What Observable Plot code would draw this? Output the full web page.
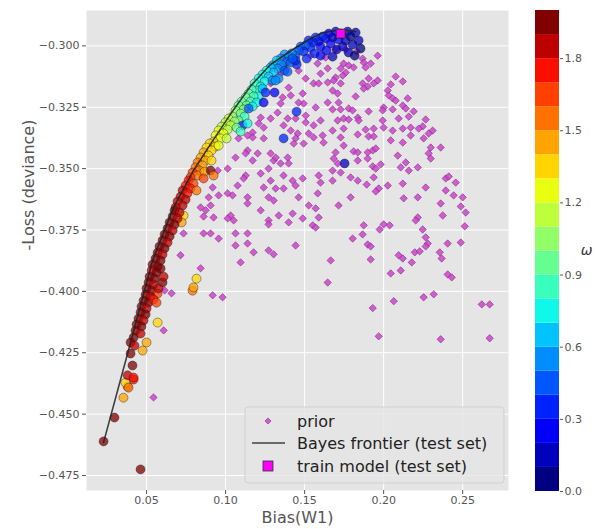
<!DOCTYPE html>
<html>
<head>
<meta charset="utf-8">
<script src="https://cdn.jsdelivr.net/npm/d3@7"></script>
<script src="https://cdn.jsdelivr.net/npm/@observablehq/plot@0.6"></script>
<style>
  html, body { margin: 0; padding: 0; background: #ffffff; }
  #chart { position: relative; width: 595px; height: 529px; font-family: "DejaVu Sans", sans-serif; }
  #chart > svg { position: absolute; top: 0; }
</style>
</head>
<body>
<div id="chart"></div>
<script>
// Axis ticks
const biasTicks = [0.05, 0.10, 0.15, 0.20, 0.25];
const lossTicks = [-0.300, -0.325, -0.350, -0.375, -0.400, -0.425, -0.450, -0.475];
const omegaTicks = [0.0, 0.3, 0.6, 0.9, 1.2, 1.5, 1.8];
// Colour bar levels for omega (20 bands)
const omegaLevels = [0.0, 0.1, 0.2, 0.3, 0.4, 0.5, 0.6, 0.7, 0.8, 0.9, 1.0,
                     1.1, 1.2, 1.3, 1.4, 1.5, 1.6, 1.7, 1.8, 1.9, 2.0];

// Prior samples: [bias, -loss]
const priorPoints = [
  [0.1538,-0.3040],[0.1582,-0.3072],[0.1633,-0.3048],[0.1646,-0.3092],[0.1601,-0.3113],
  [0.1462,-0.3101],[0.1348,-0.3113],[0.1557,-0.3153],[0.1589,-0.3153],[0.1646,-0.3149],
  [0.1507,-0.3133],[0.1399,-0.3170],[0.1285,-0.3153],[0.1412,-0.3202],[0.1361,-0.3210],
  [0.1488,-0.3194],[0.1494,-0.3235],[0.1462,-0.3231],[0.1570,-0.3251],[0.1646,-0.3231],
  [0.1348,-0.3235],[0.1329,-0.3272],[0.1285,-0.3296],[0.1222,-0.3292],[0.1209,-0.3316],
  [0.1393,-0.3296],[0.1443,-0.3296],[0.1507,-0.3284],[0.1507,-0.3312],[0.1557,-0.3324],
  [0.1601,-0.3304],[0.1367,-0.3324],[0.1241,-0.3333],[0.1171,-0.3353],[0.1139,-0.3365],
  [0.1456,-0.3357],[0.1412,-0.3345],[0.1526,-0.3357],[0.1614,-0.3365],[0.1677,-0.3345],
  [0.1696,-0.3015],[0.1760,-0.3015],[0.1829,-0.3023],[0.1962,-0.3040],[0.1867,-0.3052],
  [0.1874,-0.3068],[0.1918,-0.3072],[0.1747,-0.3072],[0.1779,-0.3080],[0.1810,-0.3088],
  [0.1886,-0.3088],[0.1728,-0.3092],[0.1760,-0.3109],[0.1741,-0.3121],[0.1696,-0.3129],
  [0.2076,-0.3125],[0.1905,-0.3133],[0.1962,-0.3141],[0.2121,-0.3145],[0.1867,-0.3153],
  [0.1937,-0.3153],[0.1899,-0.3166],[0.1728,-0.3153],[0.1684,-0.3141],[0.2045,-0.3157],
  [0.1874,-0.3174],[0.1677,-0.3182],[0.1709,-0.3194],[0.2026,-0.3182],[0.2032,-0.3202],
  [0.1823,-0.3206],[0.2057,-0.3214],[0.2076,-0.3223],[0.2152,-0.3214],[0.2121,-0.3243],
  [0.1715,-0.3231],[0.2000,-0.3251],[0.2057,-0.3259],[0.2140,-0.3255],[0.1677,-0.3259],
  [0.1728,-0.3259],[0.1779,-0.3255],[0.1804,-0.3263],[0.1905,-0.3267],[0.1994,-0.3263],
  [0.2190,-0.3267],[0.2159,-0.3288],[0.1836,-0.3292],[0.1842,-0.3304],[0.1709,-0.3304],
  [0.1747,-0.3296],[0.1779,-0.3300],[0.1994,-0.3304],[0.2095,-0.3296],[0.2266,-0.3300],
  [0.2247,-0.3328],[0.2222,-0.3337],[0.2121,-0.3337],[0.2171,-0.3333],[0.2057,-0.3345],
  [0.2000,-0.3333],[0.1886,-0.3341],[0.1937,-0.3337],[0.1747,-0.3337],[0.1836,-0.3361],
  [0.1905,-0.3369],[0.1937,-0.3369],[0.2310,-0.3345],[0.2285,-0.3357],[0.2171,-0.3365],
  [0.1728,-0.3373],[0.1082,-0.3377],[0.1171,-0.3373],[0.1241,-0.3377],[0.1443,-0.3377],
  [0.1494,-0.3398],[0.1431,-0.3398],[0.1557,-0.3373],[0.1620,-0.3394],[0.1139,-0.3426],
  [0.1203,-0.3438],[0.1127,-0.3438],[0.1063,-0.3455],[0.1171,-0.3467],[0.1285,-0.3438],
  [0.1304,-0.3467],[0.1348,-0.3479],[0.1393,-0.3455],[0.1399,-0.3479],[0.1317,-0.3455],
  [0.1013,-0.3500],[0.0950,-0.3508],[0.1127,-0.3528],[0.1114,-0.3540],[0.1222,-0.3520],
  [0.1272,-0.3500],[0.1367,-0.3528],[0.1285,-0.3549],[0.1424,-0.3549],[0.1443,-0.3569],
  [0.1488,-0.3540],[0.1589,-0.3528],[0.1601,-0.3557],[0.1677,-0.3549],[0.0918,-0.3577],
  [0.1076,-0.3569],[0.1241,-0.3577],[0.1317,-0.3581],[0.1367,-0.3581],[0.0956,-0.3609],
  [0.0893,-0.3617],[0.1013,-0.3601],[0.1044,-0.3609],[0.1139,-0.3617],[0.1272,-0.3617],
  [0.1304,-0.3630],[0.1462,-0.3617],[0.1583,-0.3601],[0.1139,-0.3642],[0.0842,-0.3658],
  [0.0874,-0.3670],[0.0905,-0.3650],[0.1526,-0.3650],[0.1570,-0.3662],[0.1222,-0.3670],
  [0.0861,-0.3695],[0.0924,-0.3699],[0.1032,-0.3691],[0.1051,-0.3711],[0.1013,-0.3703],
  [0.1336,-0.3691],[0.1424,-0.3683],[0.1488,-0.3703],[0.1589,-0.3699],[0.1272,-0.3711],
  [0.1272,-0.3727],[0.1399,-0.3719],[0.1551,-0.3731],[0.1570,-0.3740],[0.0734,-0.3764],
  [0.0861,-0.3764],[0.0905,-0.3764],[0.1063,-0.3764],[0.1139,-0.3764],[0.0956,-0.3785],
  [0.1063,-0.3813],[0.1139,-0.3805],[0.1443,-0.3813],[0.2045,-0.3385],[0.2121,-0.3394],
  [0.2253,-0.3377],[0.2298,-0.3414],[0.2361,-0.3414],[0.1696,-0.3434],[0.1747,-0.3406],
  [0.1810,-0.3430],[0.1836,-0.3434],[0.1899,-0.3434],[0.1931,-0.3426],[0.1950,-0.3418],
  [0.2089,-0.3447],[0.2285,-0.3438],[0.2298,-0.3459],[0.1836,-0.3467],[0.1899,-0.3459],
  [0.1684,-0.3459],[0.1709,-0.3479],[0.2140,-0.3475],[0.1981,-0.3483],[0.1931,-0.3491],
  [0.1950,-0.3500],[0.2108,-0.3495],[0.2159,-0.3508],[0.2216,-0.3495],[0.1677,-0.3508],
  [0.1728,-0.3516],[0.1791,-0.3536],[0.1937,-0.3536],[0.1836,-0.3549],[0.1893,-0.3565],
  [0.2026,-0.3569],[0.2121,-0.3561],[0.1969,-0.3581],[0.1950,-0.3593],[0.2266,-0.3577],
  [0.2393,-0.3540],[0.2412,-0.3532],[0.2456,-0.3557],[0.2393,-0.3589],[0.2443,-0.3609],
  [0.2500,-0.3617],[0.1791,-0.3617],[0.1715,-0.3650],[0.2127,-0.3621],[0.2216,-0.3617],
  [0.2361,-0.3642],[0.2488,-0.3654],[0.2519,-0.3679],[0.2374,-0.3691],[0.2216,-0.3699],
  [0.2203,-0.3711],[0.1874,-0.3731],[0.2000,-0.3727],[0.2038,-0.3731],[0.1975,-0.3748],
  [0.2247,-0.3748],[0.2513,-0.3735],[0.1867,-0.3768],[0.1804,-0.3785],[0.2266,-0.3780],
  [0.2279,-0.3805],[0.2405,-0.3805],[0.2488,-0.3801],[0.1899,-0.3809],[0.1918,-0.3817],
  [0.0715,-0.3853],[0.0842,-0.3906],[0.1177,-0.3841],[0.1095,-0.3882],[0.1272,-0.3833],
  [0.1304,-0.3849],[0.1665,-0.3874],[0.1646,-0.3964],[0.0918,-0.4016],[0.0981,-0.4024],
  [0.1918,-0.3870],[0.2045,-0.3927],[0.2095,-0.3853],[0.2121,-0.3866],[0.2108,-0.3915],
  [0.2178,-0.3882],[0.2197,-0.3841],[0.2228,-0.3837],[0.2266,-0.3817],[0.2355,-0.3841],
  [0.2367,-0.3866],[0.2405,-0.3931],[0.2431,-0.3943],[0.2253,-0.4024],[0.2317,-0.4012],
  [0.2064,-0.4040],[0.1931,-0.4068],[0.2621,-0.4053],[0.2671,-0.4053],[0.1969,-0.4183],
  [0.2361,-0.4195],[0.2671,-0.4191],[0.0614,-0.3996],[0.0658,-0.4008],[0.0608,-0.4159],
  [0.0544,-0.4432]
];

// Posterior samples near the frontier: [bias, -loss, omega]
const posteriorPoints = [
  [0.1823,-0.2946,0.1],[0.1791,-0.2962,0.05],[0.1842,-0.2978,0.1],[0.1804,-0.2995,0.15],
  [0.1854,-0.3011,0.05],[0.1759,-0.2978,0.15],[0.1772,-0.2942,0.1],[0.1734,-0.2954,0.15],
  [0.1715,-0.2974,0.2],[0.1741,-0.3003,0.1],[0.1696,-0.2942,0.2],[0.1677,-0.2966,0.15],
  [0.1652,-0.2950,0.25],[0.1633,-0.2970,0.2],[0.1665,-0.2991,0.25],[0.1614,-0.2962,0.3],
  [0.1589,-0.2982,0.25],[0.1570,-0.2966,0.3],[0.1601,-0.3003,0.2],[0.1551,-0.2987,0.35],
  [0.1525,-0.2978,0.35],[0.1538,-0.3007,0.3],[0.1506,-0.2999,0.4],[0.1475,-0.3003,0.4],
  [0.1494,-0.3023,0.35],[0.1462,-0.3019,0.45],[0.1443,-0.3039,0.4],[0.1418,-0.3031,0.5],
  [0.1703,-0.3015,0.1],[0.1639,-0.3019,0.25],[0.1563,-0.3031,0.3],[0.1778,-0.3027,0.15],
  [0.1601,-0.3040,0.2],[0.1677,-0.3044,0.15],[0.1817,-0.3040,0.05],[0.1513,-0.3052,0.3],
  [0.1450,-0.3076,0.3],[0.1361,-0.3084,0.45],
  [0.1399,-0.3044,0.5],[0.1373,-0.3035,0.55],[0.1348,-0.3052,0.55],[0.1386,-0.3064,0.45],
  [0.1323,-0.3060,0.6],[0.1354,-0.3076,0.5],[0.1297,-0.3080,0.6],[0.1329,-0.3092,0.55],
  [0.1411,-0.3068,0.4],[0.1443,-0.3060,0.35],[0.1373,-0.3101,0.45],[0.1424,-0.3052,0.45],
  [0.1285,-0.3088,0.65],[0.1259,-0.3101,0.7],[0.1304,-0.3109,0.6],[0.1234,-0.3117,0.7],
  [0.1272,-0.3125,0.65],[0.1209,-0.3133,0.75],[0.1247,-0.3145,0.7],[0.1184,-0.3153,0.8],
  [0.1222,-0.3166,0.75],[0.1297,-0.3141,0.55],[0.1196,-0.3182,0.8],[0.1335,-0.3133,0.5],
  [0.1234,-0.3174,0.65],[0.1209,-0.3206,0.75],
  [0.1165,-0.3178,0.85],[0.1146,-0.3194,0.9],[0.1177,-0.3206,0.85],[0.1127,-0.3210,0.9],
  [0.1158,-0.3227,0.85],[0.1101,-0.3227,0.95],[0.1133,-0.3243,0.9],[0.1082,-0.3243,0.95],
  [0.1114,-0.3259,1.0],[0.1063,-0.3263,1.0],[0.1095,-0.3276,0.95],[0.1196,-0.3231,0.7],
  [0.1171,-0.3247,0.75],[0.1120,-0.3288,0.85],[0.1082,-0.3304,0.9],
  [0.1392,-0.3105,0.4],[0.1316,-0.3141,0.55],[0.1253,-0.3190,0.3],[0.1310,-0.3190,0.25],
  [0.1241,-0.3231,0.2],[0.1449,-0.3268,0.35],[0.1367,-0.3377,0.3],[0.1753,-0.3479,0.1],
  [0.1108,-0.3324,0.3],[0.1146,-0.3255,0.4],[0.1139,-0.3316,0.7],
  [0.1044,-0.3288,1.05],[0.1019,-0.3296,1.1],[0.1057,-0.3308,1.05],[0.1000,-0.3312,1.1],
  [0.1032,-0.3324,1.15],[0.0975,-0.3329,1.15],[0.1013,-0.3341,1.1],[0.0956,-0.3345,1.2],
  [0.0987,-0.3357,1.2],[0.0937,-0.3365,1.25],[0.0968,-0.3377,1.2],[0.1070,-0.3333,0.9],
  [0.1095,-0.3349,0.8],[0.1006,-0.3377,1.15],
  [0.0924,-0.3390,1.3],[0.0899,-0.3398,1.35],[0.0937,-0.3410,1.3],[0.0880,-0.3414,1.35],
  [0.0911,-0.3426,1.3],[0.0861,-0.3434,1.4],[0.0892,-0.3447,1.35],[0.0842,-0.3455,1.45],
  [0.0873,-0.3467,1.4],[0.0956,-0.3406,1.25],[0.0911,-0.3467,1.35],
  [0.0823,-0.3475,1.5],[0.0854,-0.3487,1.45],[0.0810,-0.3495,1.55],[0.0835,-0.3508,1.5],
  [0.0791,-0.3516,1.6],[0.0823,-0.3528,1.55],[0.0778,-0.3536,1.65],[0.0867,-0.3512,1.4],
  [0.0905,-0.3508,1.9],[0.0924,-0.3528,1.55],[0.0861,-0.3540,1.6],
  [0.0766,-0.3548,1.7],[0.0797,-0.3561,1.65],[0.0747,-0.3569,1.75],[0.0778,-0.3581,1.7],
  [0.0728,-0.3589,1.8],[0.0759,-0.3601,1.75],[0.0715,-0.3614,1.8],[0.0747,-0.3626,1.85],
  [0.0696,-0.3634,1.85],[0.0728,-0.3650,1.8],[0.0684,-0.3658,1.85],[0.0816,-0.3589,1.55],
  [0.0734,-0.3691,1.3],[0.0722,-0.3719,1.45],
  [0.0677,-0.3671,1.9],[0.0709,-0.3679,1.85],[0.0665,-0.3695,1.9],[0.0696,-0.3703,1.85],
  [0.0646,-0.3719,1.95],[0.0677,-0.3728,1.9],[0.0633,-0.3744,1.9],[0.0665,-0.3752,1.85],
  [0.0614,-0.3768,1.95],[0.0646,-0.3776,1.9],[0.0601,-0.3793,1.9],[0.0633,-0.3801,1.85],
  [0.0582,-0.3817,1.95],[0.0614,-0.3825,1.9],[0.0570,-0.3842,1.9],[0.0601,-0.3850,1.85],
  [0.0557,-0.3866,1.95],[0.0589,-0.3874,1.9],[0.0538,-0.3891,1.9],[0.0570,-0.3899,1.95],
  [0.0532,-0.3915,1.85],[0.0563,-0.3923,1.9],[0.0519,-0.3940,1.95],[0.0551,-0.3948,1.9],
  [0.0513,-0.3964,1.9],[0.0544,-0.3972,1.85],[0.0601,-0.3964,1.9],[0.0500,-0.3988,1.95],
  [0.0532,-0.3997,1.9],[0.0570,-0.4009,1.6],[0.0494,-0.4013,1.9],[0.0525,-0.4021,1.8],
  [0.0481,-0.4038,1.95],[0.0513,-0.4046,1.9],[0.0544,-0.4033,1.75],[0.0468,-0.4062,1.9],
  [0.0500,-0.4070,1.85],[0.0462,-0.4086,1.95],[0.0494,-0.4094,1.9],[0.0449,-0.4111,1.9],
  [0.0481,-0.4119,1.85],[0.0570,-0.4127,1.35],[0.0437,-0.4135,1.95],[0.0468,-0.4143,1.9],
  [0.0430,-0.4160,1.9],[0.0462,-0.4172,1.85],[0.0418,-0.4188,1.95],[0.0399,-0.4208,1.9],
  [0.0424,-0.4221,1.85],[0.0500,-0.4208,1.4],[0.0475,-0.4241,1.45],[0.0563,-0.4046,1.6],
  [0.0589,-0.3907,1.9],[0.0576,-0.3988,1.85],[0.0608,-0.3940,1.8],
  [0.0228,-0.4611,1.95],[0.0297,-0.4514,1.95],[0.0462,-0.4725,1.9],[0.0354,-0.4433,1.45],
  [0.0380,-0.4388,1.55],[0.0367,-0.4372,1.35],[0.0386,-0.4392,1.5],[0.0380,-0.4342,1.85],
  [0.0418,-0.4359,1.7],[0.0411,-0.4302,1.9],[0.0399,-0.4253,1.9],[0.0418,-0.4351,1.75],
  [0.0791,-0.3997,1.5],[0.0797,-0.3984,1.45],[0.0816,-0.3948,1.3]
];

// Bayes frontier on the test set
const frontierBias = [0.0228, 0.0399, 0.0538, 0.0671, 0.0800, 0.0917, 0.1044,
                      0.1158, 0.1283, 0.1408, 0.1532, 0.1620, 0.1728, 0.1823];
const frontierLoss = [-0.4615, -0.4208, -0.3874, -0.3658, -0.3504, -0.3388, -0.3266,
                      -0.3164, -0.3077, -0.3022, -0.2972, -0.2946, -0.2934, -0.2942];

// Trained model evaluated on the test set
const trainBias = [0.1728];
const trainLoss = [-0.2950];

// matplotlib "jet" colour map, resampled into 20 discrete colours
const jetR = d3.scaleLinear().domain([0, 0.35, 0.66, 0.89, 1]).range([0, 0, 1, 1, 0.5]).clamp(true);
const jetG = d3.scaleLinear().domain([0, 0.125, 0.375, 0.64, 0.91, 1]).range([0, 0, 1, 1, 0, 0]).clamp(true);
const jetB = d3.scaleLinear().domain([0, 0.11, 0.34, 0.65, 1]).range([0.5, 1, 1, 0, 0]).clamp(true);
const nBands = omegaLevels.length - 1;
const jetColors = omegaLevels.slice(0, -1).map((_, i) => {
  const t = i / (nBands - 1);
  return d3.rgb(255 * jetR(t), 255 * jetG(t), 255 * jetB(t)).formatHex();
});
const colorScale = {type: "threshold", domain: omegaLevels.slice(1, -1), range: jetColors};

const frontier = frontierBias.map((b, i) => ({bias: b, loss: frontierLoss[i]}));
const train = trainBias.map((b, i) => ({bias: b, loss: trainLoss[i]}));

const priorFill = "#cc44cc";
const priorStroke = "#7a2a7a";

const main = Plot.plot({
  width: 595,
  height: 529,
  marginLeft: 86,
  marginRight: 87,
  marginTop: 10,
  marginBottom: 39,
  style: {fontFamily: "DejaVu Sans", fontSize: "11px", color: "#555", background: "transparent"},
  x: {domain: [0.012, 0.279]},
  y: {domain: [-0.4811, -0.2856]},
  color: colorScale,
  marks: [
    Plot.frame({fill: "#E5E5E5", stroke: "none"}),
    Plot.gridX(biasTicks, {stroke: "white", strokeOpacity: 1, strokeWidth: 1}),
    Plot.gridY(lossTicks, {stroke: "white", strokeOpacity: 1, strokeWidth: 1}),
    Plot.axisX(biasTicks, {tickFormat: d3.format(".2f"), tickSize: 4, tickPadding: 2, label: null}),
    Plot.axisY(lossTicks, {tickFormat: d3.format(".3f"), tickSize: 4, tickPadding: 3, label: null}),
    Plot.dot(priorPoints, {
      x: d => d[0], y: d => d[1], symbol: "diamond2", r: 3.3,
      fill: priorFill, fillOpacity: 0.85, stroke: priorStroke, strokeWidth: 0.6
    }),
    Plot.dot(posteriorPoints, {
      x: d => d[0], y: d => d[1], fill: d => d[2], r: 4.5,
      fillOpacity: 0.75, stroke: "#1a1a1a", strokeOpacity: 0.6, strokeWidth: 0.7
    }),
    Plot.line(frontier, {x: "bias", y: "loss", stroke: "#222", strokeWidth: 1.6, strokeOpacity: 0.85}),
    Plot.dot(train, {x: "bias", y: "loss", symbol: "square", r: 5, fill: "#ff00ff", stroke: "#333", strokeWidth: 0.8}),
    Plot.text(["-Loss (deviance)"], {frameAnchor: "left", rotate: -90, dx: -58, fontSize: 16, fill: "#555"}),
    Plot.text(["Bias(W1)"], {frameAnchor: "bottom", dy: 32, fontSize: 16, fill: "#555"})
  ]
});

// Legend box in the lower right of the axes
const lg = d3.select(main).append("g")
  .attr("font-family", "DejaVu Sans")
  .attr("font-size", 16)
  .attr("text-anchor", "start")
  .attr("fill", "#222");
lg.append("rect")
  .attr("x", 245).attr("y", 407).attr("width", 259).attr("height", 76).attr("rx", 3)
  .attr("fill", "#E5E5E5").attr("fill-opacity", 0.8)
  .attr("stroke", "#cccccc").attr("stroke-opacity", 0.8);
lg.append("path")
  .attr("d", d3.symbol(d3.symbolDiamond2, 24)())
  .attr("transform", "translate(268,421)")
  .attr("fill", priorFill).attr("fill-opacity", 0.85)
  .attr("stroke", priorStroke).attr("stroke-width", 0.6);
lg.append("line")
  .attr("x1", 252).attr("x2", 285).attr("y1", 443).attr("y2", 443)
  .attr("stroke", "#222").attr("stroke-width", 1.6).attr("stroke-opacity", 0.85);
lg.append("rect")
  .attr("x", 263).attr("y", 461).attr("width", 10).attr("height", 10)
  .attr("fill", "#ff00ff").attr("stroke", "#333").attr("stroke-width", 0.8);
const legendLabels = ["prior", "Bayes frontier (test set)", "train model (test set)"];
const legendRows = [421, 443, 466];
legendLabels.forEach((t, i) => {
  lg.append("text")
    .attr("x", 297).attr("y", legendRows[i]).attr("dy", "0.35em")
    .attr("text-anchor", "start")
    .text(t);
});

// Colour bar for omega
const bands = omegaLevels.slice(0, -1).map((lo, i) => ({lo, hi: omegaLevels[i + 1]}));
const colorbar = Plot.plot({
  width: 60,
  height: 529,
  marginLeft: 0,
  marginRight: 36,
  marginTop: 10,
  marginBottom: 38,
  style: {fontFamily: "DejaVu Sans", fontSize: "11px", color: "#555", background: "transparent"},
  x: {domain: [0, 1], axis: null},
  y: {domain: [0, 2]},
  color: colorScale,
  marks: [
    Plot.rect(bands, {x1: 0, x2: 1, y1: "lo", y2: "hi", fill: d => (d.lo + d.hi) / 2}),
    Plot.axisY(omegaTicks, {anchor: "right", tickFormat: d3.format(".1f"), tickSize: 3, tickPadding: 2, label: null}),
    Plot.text(["ω"], {frameAnchor: "right", dx: 33, fontSize: 14, fontStyle: "italic", fill: "#333"})
  ]
});
colorbar.style.left = "535px";

const chart = document.getElementById("chart");
main.style.left = "0px";
chart.appendChild(main);
chart.appendChild(colorbar);
</script>
</body>
</html>
